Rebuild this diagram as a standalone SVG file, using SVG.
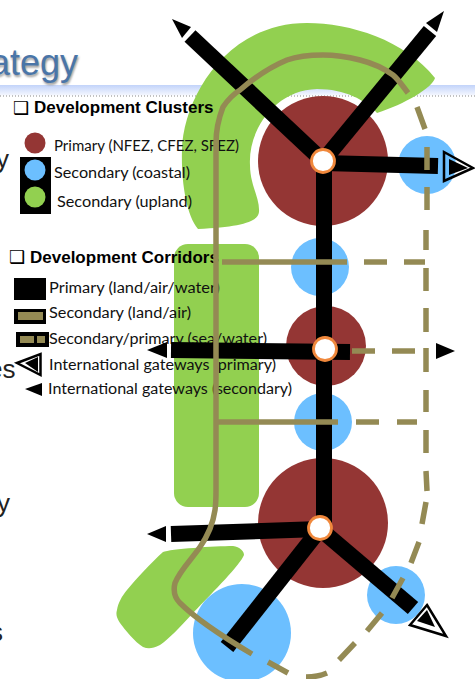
<svg xmlns="http://www.w3.org/2000/svg" width="475" height="679" viewBox="0 0 475 679">
<defs>
<linearGradient id="band" x1="0" y1="0" x2="0" y2="1"><stop offset="0" stop-color="#c2d3fa"/><stop offset="1" stop-color="#f6f8ff"/></linearGradient>
<filter id="sh" x="-10%" y="-10%" width="130%" height="130%"><feGaussianBlur stdDeviation="0.8"/></filter>
</defs>
<style>
.lg{font-family:Lato,"Open Sans",sans-serif;font-size:15.5px;fill:#111}
.hd{font-family:"Liberation Sans",Arial,sans-serif;font-size:17px;font-weight:bold;fill:#000}
.cb{font-family:"DejaVu Sans",sans-serif;font-size:18px;font-weight:bold;fill:#000}
.bg{font-family:"Liberation Sans",Arial,sans-serif;font-size:26px;fill:#222}
.brown{fill:#943634}.blue{fill:#6cbfff}.green{fill:#92d050}
.blk{fill:none;stroke:#000;stroke-width:16;stroke-linecap:butt}
.tan{fill:none;stroke:#948a54;stroke-width:5.5;stroke-linecap:butt}
.hub{fill:#fff;stroke:#f0883c;stroke-width:2.8}
</style>
<rect width="475" height="679" fill="#fff"/>
<g id="backdrop">
<rect x="0" y="85" width="475" height="10.500" fill="url(#band)"/>
<line x1="0" y1="96" x2="475" y2="96" stroke="#555" stroke-width="0.7" stroke-dasharray="1 2"/>
<text x="-9" y="76.500" font-family="Liberation Sans,Arial,sans-serif" font-size="36" fill="#999" filter="url(#sh)">ategy</text>
<text x="-10" y="75" font-family="Liberation Sans,Arial,sans-serif" font-size="36" fill="#4a75a8">ategy</text>
<text class="bg" x="-4" y="168">y</text>
<text class="bg" x="-12" y="378">es</text>
<text class="bg" x="-3" y="512">y</text>
<text class="bg" x="-10" y="641">s</text>
</g>
<g id="upland-north"><path class="green" d="M198 229C186 215 181 180 182 150C183 100 225 23 307 23C350 23 405 40 435 78C432 88 405 104 377 113C365 100 345 89 317 89C275 90 248 130 250 165C250 185 260 198 259 212C258 222 240 227 198 229Z"/></g>
<g id="upland-centre"><rect class="green" x="174" y="244" width="85" height="263" rx="14"/></g>
<g id="upland-south"><path class="green" d="M163 552C170 549 215 546 233 546C240 547 244 551 244 555C240 565 215 590 193 613C180 627 168 640 160 645C152 649 148 649 143 647C135 642 125 630 120 623C116 617 116 613 117 610C118 603 122 596 127 590C135 580 152 562 163 552Z"/></g>
<g id="cluster-north"><circle class="brown" cx="323" cy="161" r="65"/></g>
<g id="cluster-north-east"><circle class="blue" cx="427" cy="165" r="29"/></g>
<g id="cluster-upper"><circle class="blue" cx="320" cy="267" r="29"/></g>
<g id="cluster-middle"><circle class="brown" cx="326" cy="346" r="40"/></g>
<g id="cluster-lower"><circle class="blue" cx="323" cy="422" r="29"/></g>
<g id="cluster-south"><circle class="brown" cx="323" cy="523" r="65"/></g>
<g id="cluster-south-east"><circle class="blue" cx="396" cy="595" r="29"/></g>
<g id="cluster-south-west"><circle class="blue" cx="242" cy="633" r="49"/></g>
<g id="legend">
<text class="cb" x="13" y="114">❑</text><text class="hd" x="34" y="112.500">Development Clusters</text>
<circle class="brown" cx="35" cy="143" r="10.500"/>
<rect x="20" y="157" width="31" height="57" fill="#000"/>
<circle class="blue" cx="35" cy="170" r="10.500"/>
<circle class="green" cx="35" cy="197" r="10.500"/>
<text class="lg" x="54" y="151" textLength="185" lengthAdjust="spacingAndGlyphs">Primary (NFEZ, CFEZ, SFEZ)</text>
<text class="lg" x="54" y="178" textLength="136" lengthAdjust="spacingAndGlyphs">Secondary (coastal)</text>
<text class="lg" x="57" y="207" textLength="135" lengthAdjust="spacingAndGlyphs">Secondary (upland)</text>
<text class="cb" x="9" y="263">❑</text><text class="hd" x="30" y="262.500">Development Corridors</text>
<rect x="14" y="278" width="32" height="22" fill="#000"/>
<rect x="14" y="309" width="32" height="15" fill="#000"/><rect x="18" y="312" width="25" height="8" fill="#948a54"/>
<rect x="16" y="332" width="33" height="15" fill="#000"/><rect x="20" y="336" width="14" height="7" fill="#948a54"/><rect x="37" y="336" width="8" height="7" fill="#948a54"/>
<text class="lg" x="49" y="293" textLength="171" lengthAdjust="spacingAndGlyphs">Primary (land/air/water)</text>
<text class="lg" x="49" y="318" textLength="142" lengthAdjust="spacingAndGlyphs">Secondary (land/air)</text>
<text class="lg" x="49" y="344" textLength="218" lengthAdjust="spacingAndGlyphs">Secondary/primary (sea/water)</text>
<text class="lg" x="49" y="370" textLength="227" lengthAdjust="spacingAndGlyphs">International gateways (primary)</text>
<text class="lg" x="48" y="394" textLength="244" lengthAdjust="spacingAndGlyphs">International gateways (secondary)</text>
<path d="M17 363L40.500 354V375Z" fill="#fff" stroke="#000" stroke-width="2.500"/><path d="M25 363L38 357V372Z" fill="#000"/>
<path d="M25 389L42 383V396Z" fill="#000"/>
</g>
<g id="connectors">
<path class="blk" d="M323 161L190 36"/>
<path fill="#000" d="M172 19L191 27L182 38Z"/>
<path class="blk" d="M323 161L430 31"/>
<path fill="#000" d="M444 11L426 23L437 32Z"/>
<path class="blk" d="M323 163L438 166"/>
<path d="M444 152L473 168L444 181Z" fill="none" stroke="#000" stroke-width="2.500"/><path d="M449 159L468 168L449 175Z" fill="#000"/>
<path class="blk" d="M324 161V530"/>
<path class="blk" d="M171 350L350 352"/>
<path fill="#000" d="M147 350L167 342V358Z"/>
<path fill="#000" d="M436 343L455 351L436 359Z"/>
<path class="blk" d="M171 534L320 529"/>
<path fill="#000" d="M147 534L166 526V542Z"/>
<path class="blk" d="M320 529L227 647"/>
<path class="blk" d="M320 529L413 608"/>
<path d="M427 605L446 636L410 625Z" fill="none" stroke="#000" stroke-width="2.500"/><path d="M427 610L435 627L417 621Z" fill="#000"/>
<path class="tan" d="M408 93C402 85 398 79 393 75C382 67 372 63 360 60C348 57 336 55 323 55C310 55 298 56 287 60C270 67 254 78 240 90C232 95 227 101 223 107C218 120 216 132 216 143V490C216 497 216 503 215 510C213 524 207 537 200 547C192 559 180 570 175 583C173 591 175 598 180 603C195 618 225 638 252 654"/>
<path class="tan" d="M268 662L288 673M306 677C313 677 320 676 327 673M339 660L355 643M367 631L382 613M392 598L403 578M411 563L419 542M422 524L426 502M427 491L426 471M426 453V430M426 412V390M426 372V348M426 332V308M426 291V268M426 250V230M427 210V187M427 170V147M425 129L417 107"/>
<path class="tan" d="M222 262H347M364 262H387M404 262H425M352 351H375M392 351H415M217 422H338M356 422H379M397 422H417"/>
</g>
<g id="hub-north"><circle class="hub" cx="323" cy="161" r="11.500"/></g>
<g id="hub-middle"><circle class="hub" cx="325" cy="349" r="11.500"/></g>
<g id="hub-south"><circle class="hub" cx="320" cy="528" r="11.500"/></g>
</svg>
